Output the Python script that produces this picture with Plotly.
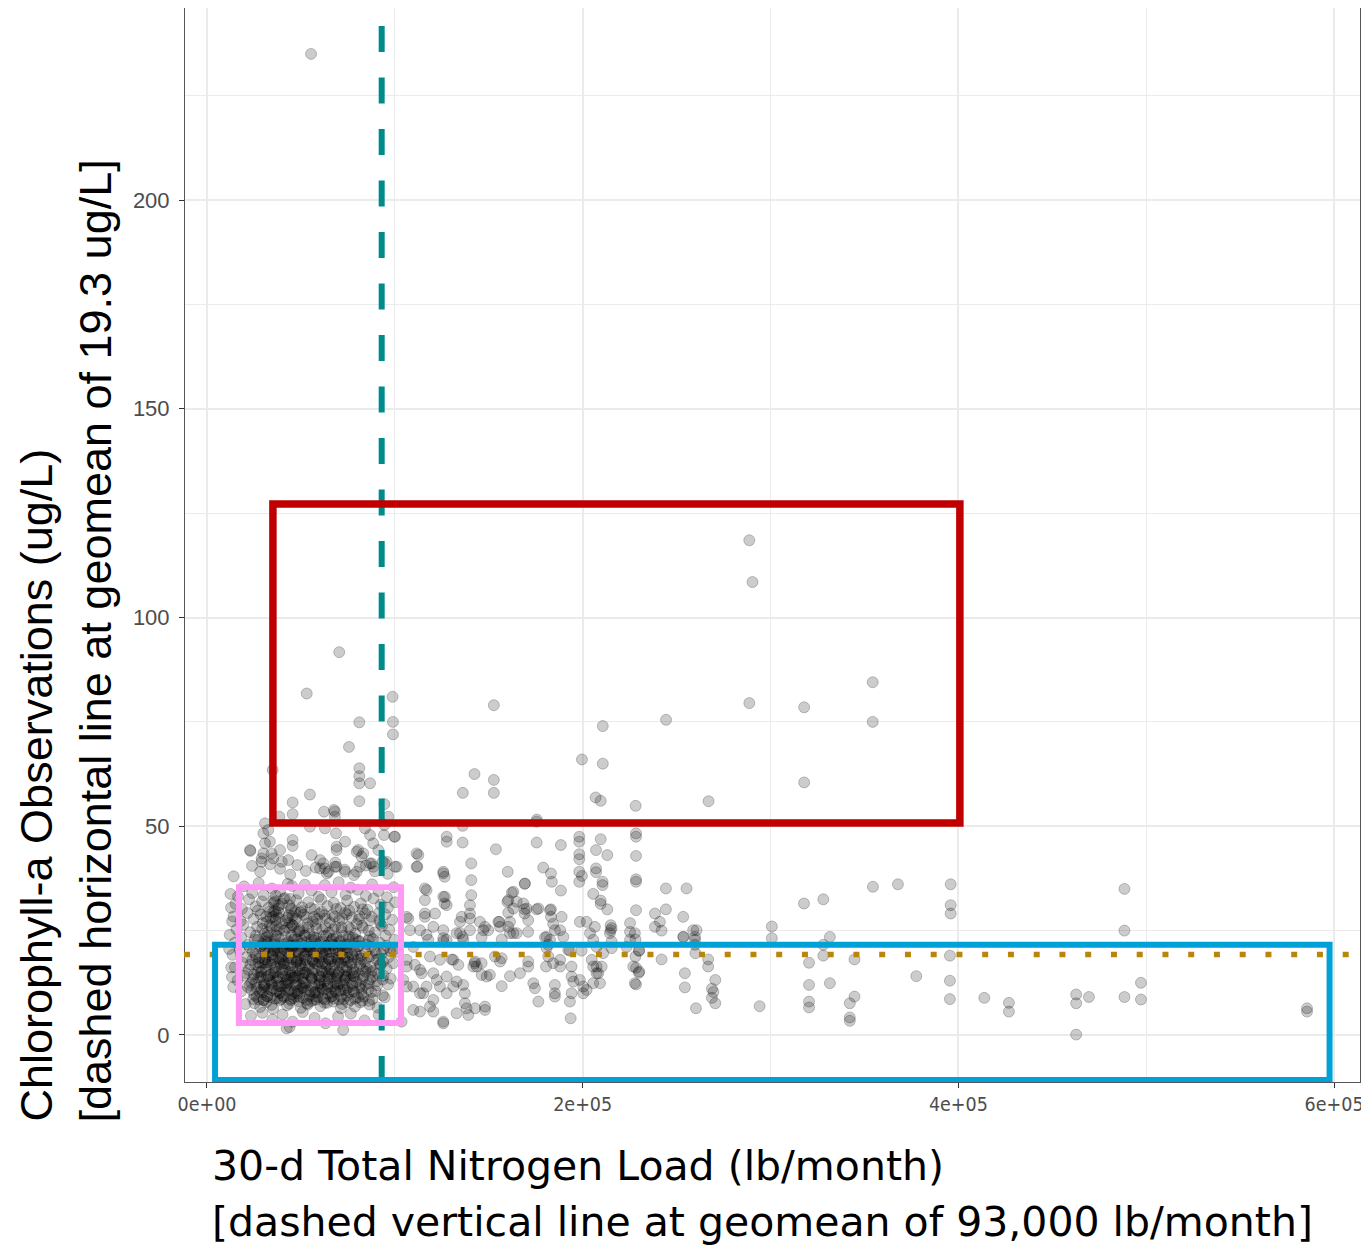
import plotly.graph_objects as go

# ---------------- data (x in thousand lb/month, y in ug/L) ----------------
high_pts = [(55.4,235.0),(70.4,91.7),(53.1,81.8),(98.8,81.0),(81.1,74.9),(99.0,75.0),(99.0,72.0),
    (75.6,69.0),(35.0,63.5),(81.1,63.9),(81.1,62.0),(81.1,60.3),(86.8,60.3),(54.8,57.6),(81.1,56.0),
    (45.6,55.7),(45.6,52.9),(62.3,53.5),(68.1,53.5),(68.1,52.3),(94.4,55.3),(96.5,52.3),
    (288.7,118.5),(290.4,108.5),(152.7,79.0),(244.4,75.5),(288.7,79.5),(317.9,78.5),(354.4,84.5),
    (354.4,75.0),(210.7,74.0),(199.6,66.0),(210.7,65.0),(317.9,60.5),(142.4,62.5),(152.7,61.1),
    (136.2,58.0),(152.7,58.0),(206.9,56.9),(209.6,56.1),(228.2,54.9),(267.0,56.0),(175.6,51.6)]

halo_pts = [(38.5,52.3),(30.9,50.7),(30.0,48.3),(32.6,49.1),(33.5,46.3),(30.9,45.9),(22.9,44.3),
    (29.1,42.3),(34.4,43.5),(38.9,44.3),(45.6,46.7),(45.6,45.3),(54.8,49.9),(62.8,49.5),(68.7,48.3),
    (73.5,46.3),(69.0,44.3),(69.0,45.1),(55.7,43.1),(60.2,41.9),(62.8,39.9),(68.1,40.3),(80.5,44.3),
    (83.2,43.5),(86.8,41.1),(88.5,40.3),(93.5,41.5),(95.6,41.5),(94.4,50.3),(99.7,47.5),(111.6,43.5),
    (111.6,40.3),(101.0,40.3),(86.8,47.9),(84.1,49.5),(94.2,47.9),(100.1,47.5),(88.5,45.9),(91.2,44.3),
    (43.3,41.9),(30.0,43.5),(35.3,42.3),(39.8,41.5),(61.9,41.1),(60.2,39.9),(64.6,39.1),(69.0,40.3),
    (73.5,39.1),(79.7,43.9),(82.3,42.7),(81.4,40.3),(79.7,39.1),(87.7,41.1),(94.7,41.1),(100.1,40.3),
    (67.6,53.9),(29.1,41.5),(23.1,44.1),
    (14.2,38.0),(24.0,40.5),(28.3,39.1),(33.6,40.9),(38.9,39.8),(44.3,38.4),(48.1,40.7),(52.6,39.3),
    (57.9,40.1),(63.8,38.7),(68.3,41.3),(73.3,39.6),(78.2,38.3),(84.6,40.6),(89.4,39.2),(96.2,38.6),
    (12.5,33.8),(12.8,30.5),(13.4,27.2),(12.1,24.0),(12.9,16.2),(13.3,13.9),(11.8,20.6),(14.0,11.5)]

core_pts = [
    (16.5,33.2),(19.8,35.6),(24.1,34.0),(27.5,36.4),(30.2,33.5),(34.6,35.1),(38.9,34.4),(43.0,36.2),
    (41.5,32.8),(45.3,35.7),(48.8,33.9),(52.1,36.0),(55.6,34.6),(59.4,33.1),(62.7,35.9),(66.3,34.2),
    (70.1,36.6),(73.8,33.6),(76.5,35.3),(80.2,34.8),(84.6,33.3),(87.9,36.1),(91.3,34.5),(95.8,33.0),(99.4,35.4),
    (15.2,31.4),(18.6,30.2),(22.4,32.5),(25.9,30.8),(29.3,32.0),(32.8,30.5),(36.1,31.9),(38.0,30.3),
    (40.9,32.6),(43.8,31.1),(44.7,29.9),(47.5,32.3),(50.6,30.6),(53.9,31.8),(57.2,30.1),(60.8,32.4),
    (64.1,30.9),(67.5,31.6),(71.2,30.4),(74.6,32.2),(78.3,30.7),(81.9,31.5),(85.4,30.0),(88.7,32.7),
    (92.5,31.2),(96.3,30.5),(100.2,31.8),
    (14.1,28.4),(17.9,27.3),(21.5,29.2),(24.8,27.8),(28.6,28.9),(31.9,27.1),(35.3,29.5),(38.2,28.0),
    (41.8,27.4),(43.6,28.7),(46.9,27.6),(49.7,29.4),(52.8,28.2),(56.4,27.2),(59.9,29.0),
    (63.2,27.9),(66.8,28.8),(70.4,27.5),(73.5,29.3),(77.1,28.1),(80.8,27.7),(84.2,29.1),(87.6,28.3),
    (91.8,27.4),(94.9,28.9),(98.6,27.6),
    (15.7,25.3),(19.3,26.4),(23.0,24.6),(26.7,25.9),(30.6,24.2),(33.4,26.3),(37.0,25.1),(39.8,26.6),
    (42.9,25.7),(45.8,26.2),(48.5,24.8),(51.3,25.6),(54.7,24.1),(57.8,26.5),(61.4,25.2),
    (64.9,24.5),(68.2,26.0),(71.7,24.9),(75.3,25.8),(78.9,24.3),(82.5,26.2),(86.1,25.0),(89.4,24.6),
    (93.2,26.1),(97.0,25.2),
    (14.8,22.1),(18.2,23.4),(21.9,21.6),(25.4,22.9),(28.9,21.3),(32.3,23.6),(35.8,22.4),(38.6,21.1),
    (42.4,22.0),(44.9,23.8),(47.3,21.5),(50.2,22.7),(53.5,21.2),(56.8,23.5),(60.3,22.3),
    (63.7,21.4),(67.1,23.1),(70.6,22.2),(74.0,21.0),(77.6,23.3),(81.2,22.5),(84.9,21.7),(88.3,23.0),
    (91.9,22.1),(95.5,21.4),(99.8,22.8),
    (13.6,19.2),(17.4,20.3),(20.8,18.6),(24.3,19.9),(27.8,18.4),(30.9,20.6),(34.2,19.1),(37.5,20.2),
    (40.3,18.8),(43.1,19.7),(45.9,20.8),(48.6,18.3),(51.7,19.5),(54.9,20.4),(58.1,18.9),(61.6,19.8),
    (64.8,18.2),(68.4,20.5),(71.9,19.3),(75.1,18.5),(78.6,20.1),(82.0,19.0),(85.7,18.7),(89.1,20.3),
    (92.8,19.4),(96.6,18.6),(101.0,19.9),
    (14.9,16.2),(18.8,17.3),(22.2,15.6),(25.7,16.9),(29.1,15.3),(32.6,17.5),(35.9,16.1),(39.2,17.0),
    (42.0,15.4),(44.6,16.7),(47.8,17.6),(50.9,15.8),(54.1,16.5),(57.5,17.2),(60.9,15.5),(64.3,16.8),
    (67.7,15.2),(71.0,17.4),(74.4,16.3),(77.9,15.7),(81.5,17.1),(85.0,16.0),(88.5,15.4),(92.1,16.9),
    (95.7,15.9),(99.1,17.2),
    (16.3,13.1),(19.9,14.2),(23.6,12.5),(27.2,13.8),(30.4,12.3),(33.9,14.5),(37.3,13.0),(40.6,14.1),
    (43.5,12.6),(46.4,13.7),(49.4,14.6),(52.4,12.4),(55.8,13.4),(59.2,14.3),(62.5,12.8),(65.9,13.9),
    (69.3,12.2),(72.8,14.4),(76.2,13.2),(79.6,12.7),(83.3,14.0),(86.8,13.3),(90.4,12.9),(94.0,14.2),(97.8,13.5),
    (18.1,10.4),(21.7,11.5),(25.2,9.6),(28.8,10.9),(32.1,9.3),(35.6,11.2),(38.9,10.1),(42.2,11.8),
    (45.1,9.7),(48.3,10.6),(51.5,11.4),(54.6,9.4),(58.0,10.3),(61.3,11.1),(64.6,9.9),(68.0,10.8),
    (71.4,9.2),(74.9,11.3),(78.4,10.2),(82.2,9.8),(85.9,11.0),(89.7,10.5),(93.6,9.5),
    (20.5,7.4),(24.6,8.6),(28.3,6.7),(31.7,7.9),(35.2,6.3),(38.7,8.3),(42.6,7.1),(46.2,8.8),
    (49.9,6.5),(53.3,7.6),(56.9,8.4),(60.4,6.9),(64.0,7.7),(67.6,8.7),(71.3,6.4),(75.0,7.8),
    (78.8,6.8),(82.7,8.2),(86.5,7.3),(90.8,6.6),
    (23.4,4.6),(29.5,5.3),(34.8,3.7),(40.2,4.9),(45.6,3.2),(51.0,5.5),(57.3,4.1),(63.1,2.8),
    (69.8,4.4),(76.6,5.1),(83.9,3.5),(91.4,4.8),(44.0,1.9),(72.5,1.2),(42.4,1.6)]

core_dense_pts = [
    (27.1,29.8),(33.2,29.6),(38.3,31.1),(44.8,30.3),(50.3,29.7),(55.2,30.4),(61.1,29.5),
    (68.8,30.2),(75.7,29.8),(82.8,30.1),
    (29.7,26.8),(36.4,27.6),(43.9,26.9),(47.7,27.9),(53.6,26.7),(58.6,27.8),(65.4,26.9),
    (72.1,27.8),(79.7,26.6),(86.8,27.5),
    (26.0,23.8),(31.3,22.6),(36.7,23.9),(41.7,23.5),(46.1,22.8),(51.8,23.9),(55.7,22.9),
    (62.0,23.7),(66.1,22.5),(72.4,23.7),(79.2,22.9),(86.8,23.6),
    (22.9,20.9),(29.6,21.8),(33.0,19.8),(36.5,21.7),(41.4,20.4),(44.1,21.3),(47.2,19.9),(50.5,21.0),
    (53.1,20.0),(57.0,21.1),(60.0,20.7),(63.4,19.6),(66.9,21.5),(70.3,20.2),(73.9,21.7),(77.3,19.2),
    (80.9,21.3),(87.4,21.1),(94.1,20.6),
    (24.1,18.0),(27.4,17.4),(31.2,18.1),(34.9,17.8),(38.3,18.5),(41.3,17.2),(45.0,18.2),(49.6,17.1),
    (52.8,18.0),(56.2,17.7),(59.6,18.4),(62.9,17.0),(66.5,18.3),(69.8,17.8),(73.2,18.6),(76.7,17.3),
    (80.3,18.1),(84.1,17.6),(90.3,18.0),
    (21.0,14.8),(25.0,14.5),(28.6,15.0),(32.0,14.0),(36.4,15.1),(40.0,14.9),(43.9,13.5),(45.5,15.0),
    (48.4,14.1),(51.8,14.9),(56.4,14.8),(60.1,14.0),(63.5,15.0),(66.6,14.6),(70.2,15.1),(73.6,14.0),
    (77.2,14.8),(81.0,14.5),(84.5,15.1),(91.0,14.7),
    (22.8,12.0),(26.5,11.2),(30.9,11.9),(34.5,12.0),(38.1,11.7),(41.6,12.4),(44.3,11.0),(47.7,12.1),
    (50.8,11.6),(53.8,10.8),(57.3,12.0),(60.7,11.5),(64.1,12.1),(67.4,11.7),(70.8,12.3),(74.0,10.7),
    (77.5,11.8),(81.0,11.4),(84.3,12.0),
    (26.4,9.2),(30.2,8.4),(33.9,9.0),(37.4,8.8),(41.1,9.1),(44.7,8.3),(47.5,9.2),(51.2,8.9),
    (55.3,8.1),(58.9,9.1),(62.8,8.5),(66.7,9.3),(72.8,8.6),(80.4,9.0),
    (35.4,31.6),(36.2,29.7),(35.1,28.3),(36.6,33.4)]

core_layer3_pts = [
    (25.3,7.6),(30.1,8.3),(34.4,7.2),(39.5,8.6),(43.8,7.5),(48.9,8.1),(53.6,7.3),(58.2,8.5),
    (62.5,7.7),(67.3,8.0),(71.9,7.4),(76.4,8.4),(81.6,7.8),(86.2,8.2),
    (23.7,10.8),(28.2,10.2),(32.9,11.0),(37.1,10.5),(41.8,10.9),(46.5,10.3),(50.2,11.2),(55.0,10.6),
    (59.4,10.1),(63.8,11.1),(68.5,10.4),(72.6,10.9),(77.9,10.5),(82.4,11.0),(87.5,10.3),
    (24.5,13.4),(29.0,14.0),(33.3,13.2),(37.9,13.9),(42.7,13.3),(47.1,14.1),(51.0,13.5),(55.5,13.8),
    (60.0,13.1),(64.4,14.0),(68.9,13.6),(73.1,13.2),(78.0,14.1),(82.7,13.4),(88.1,13.9),(93.5,13.3),
    (23.1,16.9),(27.7,16.3),(31.8,16.8),(36.8,16.4),(40.8,17.0),(45.4,16.2),(49.9,16.7),(54.5,16.1),
    (58.8,16.9),(63.3,16.4),(67.9,16.8),(72.1,16.2),(76.8,16.9),(81.4,16.5),(86.9,16.3),(92.6,16.8),
    (25.8,19.4),(30.3,19.9),(34.9,19.3),(39.1,19.8),(43.8,19.5),(48.3,20.0),(52.5,19.2),(56.9,19.7),
    (61.5,19.3),(65.6,19.9),(70.0,19.5),(74.7,19.8),(79.4,19.4),(84.5,19.9),(90.1,19.6),
    (27.2,22.8),(31.9,22.3),(36.1,22.9),(43.3,22.4),(47.9,22.9),(52.7,22.2),(57.4,22.7),(61.8,22.3),
    (66.5,22.8),(70.9,22.5),(75.5,22.9),(80.8,22.4),(85.9,22.7),
    (29.4,25.4),(34.3,25.9),(38.6,25.3),(44.8,25.8),(49.2,25.2),(53.9,25.7),(58.3,25.5),(63.0,25.9),
    (67.2,25.3),(71.6,25.8),(76.4,25.4),(83.0,25.7),
    (31.5,28.4),(36.9,28.9),(45.6,28.5),(51.5,28.8),(57.0,28.3),(62.6,28.7),(68.0,28.4),(74.3,28.9),(81.1,28.5),
    (30.4,11.3),(35.2,13.8),(39.7,11.6),(44.9,14.2),(49.5,11.9),(54.2,14.4),(59.6,12.0),(64.9,14.6),(69.7,11.8),(74.8,14.3),
    (30.8,17.3),(35.5,20.5),(40.4,17.8),(45.2,20.8),(49.8,18.1),(54.8,21.0),(59.9,17.6),(64.6,20.7),(69.5,18.0),(74.4,20.9),
    (31.6,23.4),(37.8,23.7),(46.9,23.5),(52.4,23.9),(57.9,23.3),(63.5,23.8),(69.1,23.4),(75.6,23.6)]

core_layer4_pts = [
    (27.6,8.5),(31.9,9.3),(36.0,8.7),(40.4,9.4),(44.6,8.6),(49.0,9.2),(53.1,8.4),(57.5,9.3),
    (61.7,8.8),(65.9,9.1),(70.3,8.5),(74.5,9.4),(78.9,8.7),(83.4,9.2),(88.0,8.6),
    (25.9,12.4),(30.1,11.8),(34.2,12.5),(38.6,11.7),(42.9,12.3),(47.2,11.9),(51.4,12.6),(55.8,11.8),
    (60.1,12.4),(64.3,11.7),(68.6,12.5),(72.9,11.9),(77.2,12.3),(81.6,11.8),(86.1,12.4),(90.6,11.9),
    (27.0,15.0),(31.2,15.6),(35.6,14.9),(39.8,15.7),(44.1,15.1),(48.4,15.5),(52.7,14.9),(57.0,15.6),
    (61.3,15.2),(65.5,15.7),(69.8,14.9),(74.1,15.5),(78.5,15.0),(82.9,15.6),(87.4,15.1),
    (26.2,18.7),(30.6,18.1),(34.8,18.8),(39.1,18.2),(43.4,18.6),(47.6,18.0),(51.9,18.7),(56.2,18.1),
    (60.6,18.8),(64.9,18.2),(69.1,18.6),(73.4,18.0),(77.8,18.7),(82.2,18.3),(86.7,18.8),(91.3,18.1),
    (28.3,21.2),(32.6,21.8),(36.9,21.1),(41.2,21.7),(45.5,21.3),(49.8,21.9),(54.1,21.2),(58.4,21.8),
    (62.8,21.1),(67.0,21.7),(71.4,21.3),(75.8,21.8),(80.3,21.2),
    (32.4,24.6),(36.8,26.1),(41.0,25.0),(45.3,26.4),(49.1,24.9),(33.9,28.0),(38.4,29.3),(42.8,28.1),
    (47.0,29.5),(35.5,32.3),(39.9,31.4),(44.2,32.6)]

core_layer5_pts = [
    (29.8,10.3),(34.4,10.7),(38.9,10.1),(43.5,10.6),(48.1,10.0),(52.6,10.5),(57.2,10.2),(61.8,10.8),
    (66.3,10.1),(70.9,10.6),(75.5,10.3),
    (28.3,13.8),(32.8,14.2),(37.4,13.6),(41.9,14.1),(46.5,13.7),(51.1,14.3),(55.6,13.6),(60.2,14.0),
    (64.8,13.5),(69.3,14.2),(73.9,13.7),(78.5,14.0),
    (29.5,17.3),(34.0,16.9),(38.6,17.5),(43.2,17.0),(47.7,17.4),(52.3,16.8),(56.9,17.5),(61.4,17.1),
    (66.0,17.6),(70.6,16.9),(75.1,17.4),
    (31.1,20.7),(35.7,20.2),(40.2,20.9),(44.8,20.4),(49.4,20.8),(53.9,20.3),(58.5,20.9),(63.1,20.4),
    (67.6,20.8),(72.2,20.3),
    (92.4,26.6),(95.1,23.8),(93.7,17.6),(96.4,12.1),(94.6,9.0),(97.6,20.1),(91.6,29.3)]

mid_pts = [(106.3,28.3),(116.9,34.7),(120.5,25.9),(125.8,38.7),(126.7,33.1),(127.6,31.1),(116.0,29.1),
    (118.7,18.8),(124.0,18.0),(113.4,15.6),(120.5,14.8),(109.8,11.6),(113.4,10.0),(120.5,8.4),
    (127.6,10.0),(131.1,11.6),(109.8,6.0),(118.7,6.8),(125.8,2.8),(131.1,18.0),(109.8,21.1),
    (106.3,16.4),(104.5,13.2),(116.0,35.1),(116.0,32.3),(116.0,28.3),(107.2,27.9),(108.1,25.1),
    (113.4,25.1),(116.9,24.0),(117.8,22.8),(121.4,29.1),(99.2,20.4),(106.3,18.0),(110.7,16.8),
    (114.3,14.8),(116.9,11.6),(115.1,10.0),(106.3,11.6),(113.4,5.6),(120.5,5.6),(103.6,3.2),
    (122.3,13.2),(124.0,11.6),(112.5,43.1),(112.0,40.3),
    (175.5,51.1),(136.1,50.1),(127.6,47.5),(127.6,46.3),(136.1,46.1),(153.8,44.5),(175.5,46.1),
    (188.4,45.5),(198.2,47.5),(198.2,46.3),(209.6,46.9),(207.1,44.3),(213.1,43.1),(228.4,48.3),
    (228.4,47.5),(228.4,42.9),(198.2,43.3),(198.2,42.1),(140.7,41.1),(125.8,39.1),(126.5,37.9),
    (140.7,37.1),(160.1,39.1),(179.0,40.1),(183.1,38.7),(183.6,36.7),(198.2,39.1),(199.6,38.1),
    (198.2,36.7),(207.1,39.9),(207.1,39.0),(210.6,36.7),(210.6,35.9),(228.4,37.3),(228.4,36.7),
    (169.1,36.2),(188.4,34.6),(205.6,33.8),(140.7,33.5),(125.8,33.1),(126.5,31.5),(159.9,31.9),
    (162.3,34.1),(164.9,31.9),(140.0,31.1),(209.6,32.2),(209.6,31.4),(213.1,30.1),(228.4,29.9),
    (175.5,30.1),(183.1,30.1),(169.1,30.1),(169.1,29.1),(160.4,29.3),(238.5,29.1),(244.3,30.1),
    (241.1,27.1),(238.5,25.9),(242.0,25.0),(253.5,28.3),(255.3,35.1),(244.3,35.1),(140.0,27.9),
    (134.7,27.1),(134.7,24.4),(145.3,27.1),(148.0,25.9),(155.6,27.1),(160.4,25.9),(161.3,24.4),
    (171.0,27.5),(171.0,24.7),(183.1,28.3),(184.3,26.6),(185.2,25.1),(188.8,28.3),(198.5,27.1),
    (202.1,27.1),(206.5,25.9),(214.9,26.3),(214.9,25.1),(225.2,26.8),(225.2,24.7),(125.8,23.2),
    (125.8,22.4),(136.1,23.5),(146.2,23.4),(156.9,22.9),(164.9,24.4),(179.9,23.4),(181.7,21.6),
    (193.2,20.2),(199.4,20.2),(215.4,22.4),(215.4,20.8),(225.2,22.8),(230.1,20.2),(242.0,18.1),
    (253.5,23.5),(258.8,25.1),(259.8,22.8),(130.3,18.1),(133.8,16.8),(142.5,17.2),(143.6,16.4),
    (146.2,14.4),(148.9,14.0),(153.3,18.8),(156.9,18.4),(161.3,14.1),(166.6,14.8),(171.0,17.6),
    (171.0,16.4),(173.7,12.4),(174.6,11.2),(180.5,16.4),(185.2,12.0),(185.2,10.0),(185.2,9.2),
    (188.0,18.0),(194.1,16.4),(194.1,14.0),(195.0,12.8),(198.5,13.2),(200.3,11.6),(202.1,10.8),
    (200.3,10.0),(194.1,10.0),(193.2,8.0),(193.6,4.0),(176.4,8.0),(204.8,18.0),(207.4,16.4),
    (210.1,16.4),(207.4,14.8),(228.4,16.1),(230.1,15.2),(228.4,12.1),(254.4,14.8),(254.4,11.4),
    (260.3,6.4),(156.9,11.7),(148.0,6.8),(148.0,6.0),(138.2,6.4),(139.1,4.8),(132.9,5.2),
    (142.7,6.4),(125.8,3.2),(127.6,14.0),(132.9,12.8),(136.4,12.0),(137.3,10.0),(137.3,7.6),
    (142.7,17.6),(146.2,17.2),(141.8,16.4),(150.6,14.4),(156.0,17.6),(125.8,25.1),(127.6,22.8),
    (132.9,24.4),(136.4,22.8),(135.6,28.3),(140.0,29.1),(140.0,25.1),(147.1,25.1),(149.7,25.1),
    (155.1,27.1),(156.0,25.9),(161.3,27.1),(163.1,24.4),(160.4,32.3),(163.1,30.3),(168.4,31.5),
    (170.2,30.3),(169.3,36.3),(163.1,34.3),(176.4,30.3),(182.6,29.9),(188.0,25.1),(189.7,23.5),
    (180.8,23.5),(182.6,22.8),(180.8,20.8),(181.7,18.8),(184.3,17.2),(188.0,16.4),(192.3,20.4),
    (203.9,24.4),(205.6,22.8),(207.4,21.1),(210.9,19.6),(214.5,24.4),(215.4,25.6),(205.6,16.4),
    (208.3,14.8),(205.6,12.4),(209.2,12.4),(227.8,24.4),(226.9,16.4),(227.8,12.4),(223.4,21.1)]

far_pts = [(260.6,25.1),(253.7,23.5),(259.8,23.5),(259.8,21.6),(300.7,26.0),(300.7,23.2),(331.6,23.5),
    (328.1,32.5),(317.8,31.5),(354.5,35.5),(367.8,36.1),(395.9,36.1),(395.9,31.1),(395.9,29.1),
    (488.4,35.0),(488.4,25.0),(229.9,20.2),(228.1,18.8),(260.0,19.6),(266.8,18.1),(266.8,16.4),
    (328.1,21.6),(328.1,19.0),(320.5,17.3),(344.7,18.1),(395.5,19.0),(229.9,14.9),(270.6,13.2),
    (268.8,11.1),(269.6,10.3),(268.8,8.9),(270.6,7.6),(294.2,6.9),(320.5,12.0),(320.5,8.0),
    (320.5,6.6),(331.6,12.4),(342.2,7.6),(344.7,9.2),(342.2,4.2),(342.2,3.4),(377.6,14.1),
    (395.5,13.0),(395.5,8.6),(413.8,8.9),(426.9,7.7),(426.9,5.6),(462.7,9.7),(462.7,7.6),
    (469.5,9.1),(462.7,0.1),(488.4,9.1),(497.2,12.5),(497.2,8.5),(585.6,6.4),(585.6,5.6),(228.1,22.9)]

geomean_load_klb = 93.0
geomean_chla = 19.3

# highlight boxes: (x0, x1, y0, y1) in data units
red_box = (35.1, 400.8, 50.8, 127.2)
blue_box = (4.3, 597.6, -10.8, 21.6)
pink_box = (17.0, 103.3, 2.9, 35.4)

x_tickvals = [0, 200, 400, 600]
x_ticktext = ["0e+00", "2e+05", "4e+05", "6e+05"]
y_tickvals = [0, 50, 100, 150, 200]

# ---------------- figure ----------------
all_pts = (core_pts + core_dense_pts + core_layer3_pts + core_layer4_pts + core_layer5_pts
           + halo_pts + mid_pts + far_pts + high_pts)
xs = [p[0] for p in all_pts]
ys = [p[1] for p in all_pts]

fig = go.Figure()
fig.add_trace(go.Scatter(
    x=xs, y=ys, mode="markers",
    marker=dict(size=11, color="rgba(0,0,0,0.2)",
                line=dict(color="rgba(0,0,0,0.22)", width=1)),
    hoverinfo="skip", showlegend=False))

shapes = []
shapes.append(dict(type="line", xref="paper", yref="y", x0=-0.0009, x1=1, y0=geomean_chla, y1=geomean_chla,
                   line=dict(color="#B8860B", width=5.5, dash="6px,19.75px"), layer="above"))
shapes.append(dict(type="line", xref="x", yref="paper", x0=geomean_load_klb, x1=geomean_load_klb, y0=0, y1=1,
                   line=dict(color="#008B8B", width=6, dash="26px,25.5px"), layer="above"))
for box, col, w in [(red_box, "#C00000", 7.5), (blue_box, "#00A1D6", 6), (pink_box, "#FF99F5", 6)]:
    shapes.append(dict(type="rect", xref="x", yref="y", x0=box[0], x1=box[1], y0=box[2], y1=box[3],
                       line=dict(color=col, width=w), fillcolor="rgba(0,0,0,0)", layer="above"))

axis_common = dict(showline=True, linecolor="#555555", linewidth=1, mirror=True,
                   ticks="outside", ticklen=5, tickwidth=1, tickcolor="#333333",
                   showgrid=True, gridcolor="#EBEBEB", gridwidth=2.2, zeroline=False)

# page body has an 8px margin, so the figure is sized 8px smaller than the window
fig.update_layout(
    width=1361, height=1242,
    margin=dict(l=177, r=9, t=0, b=168),
    paper_bgcolor="white", plot_bgcolor="white",
    shapes=shapes, hovermode=False, showlegend=False,
    xaxis=dict(range=[-11.7, 613.8], tickvals=x_tickvals, ticktext=x_ticktext,
               tickfont=dict(family="DejaVu Sans Condensed, Liberation Sans Narrow, sans-serif", size=19.5, color="#4D4D4D"),
               minor=dict(tickvals=[100, 300, 500], showgrid=True, gridcolor="#EBEBEB", gridwidth=1.3, ticks=""),
               **axis_common),
    yaxis=dict(range=[-11.26, 246.0], tickvals=y_tickvals,
               tickfont=dict(family="Liberation Sans, Arial, sans-serif", size=22, color="#4D4D4D"),
               minor=dict(tickvals=[25, 75, 125, 175, 225], showgrid=True, gridcolor="#EBEBEB", gridwidth=1.3, ticks=""),
               ticklabelstandoff=5,
               **axis_common),
)

xfont = dict(family="DejaVu Sans, sans-serif", size=41, color="black")
yfont = dict(family="Liberation Sans, Arial, sans-serif", size=45, color="black")
fig.add_annotation(text="30-d Total Nitrogen Load (lb/month)", xref="paper", yref="paper",
                   x=0.0213, y=-0.0782, xanchor="left", yanchor="middle", showarrow=False, font=xfont)
fig.add_annotation(text="[dashed vertical line at geomean of 93,000 lb/month]", xref="paper", yref="paper",
                   x=0.0213, y=-0.1304, xanchor="left", yanchor="middle", showarrow=False, font=xfont)
fig.add_annotation(text="Chlorophyll-a Observations (ug/L)", xref="paper", yref="paper", textangle=-90,
                   x=-0.1268, y=-0.0391, xanchor="center", yanchor="bottom", showarrow=False, font=yfont)
fig.add_annotation(text="[dashed horizontal line at geomean of 19.3 ug/L]", xref="paper", yref="paper", textangle=-90,
                   x=-0.0766, y=-0.0391, xanchor="center", yanchor="bottom", showarrow=False, font=yfont)

fig.write_html("out.html")
